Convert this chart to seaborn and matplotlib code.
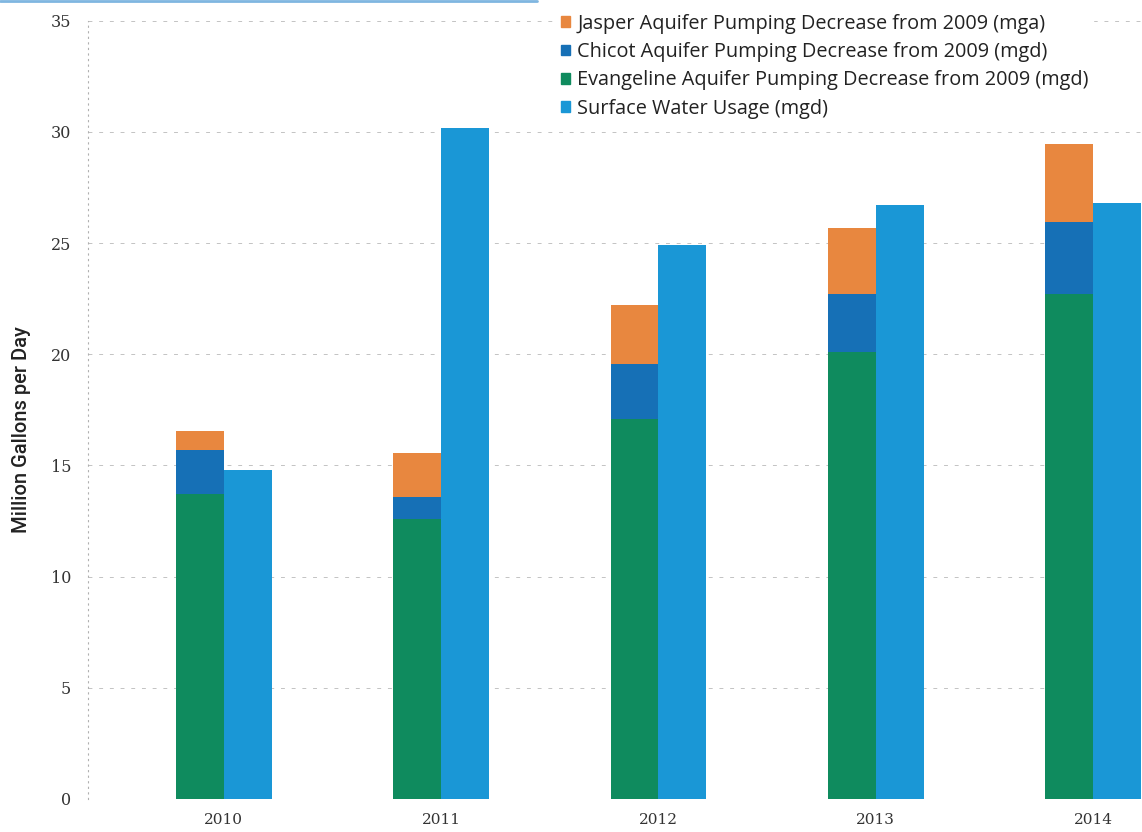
import pandas as pd
import matplotlib.pyplot as plt
import matplotlib.patches as mpatches
import seaborn as sns

# -------------------- Data --------------------
years = ["2010", "2011", "2012", "2013", "2014"]
evangeline = [13.7, 12.6, 17.1, 20.1, 22.7]     # Evangeline decrease (mgd)
chicot = [2.0, 1.0, 2.45, 2.6, 3.25]             # Chicot decrease (mgd)
jasper = [0.85, 1.95, 2.65, 3.0, 3.5]            # Jasper decrease (mgd)
surface = [14.8, 30.2, 24.9, 26.7, 26.8]         # Surface water usage (mgd)

labels = [
    "Jasper Aquifer Pumping Decrease from 2009 (mga)",
    "Chicot Aquifer Pumping Decrease from 2009 (mgd)",
    "Evangeline Aquifer Pumping Decrease from 2009 (mgd)",
    "Surface Water Usage (mgd)",
]
colors = ["#E8873F", "#1670B6", "#0F8B5E", "#1A97D6"]

# -------------------- Build stacked layers --------------------
# each layer holds the cumulative height of the ground-water stack
lvl_green = evangeline
lvl_chicot = [g + c for g, c in zip(evangeline, chicot)]
lvl_jasper = [g + c + j for g, c, j in zip(evangeline, chicot, jasper)]

kinds = ["ground", "surface"]


def layer(ground, surf):
    return pd.DataFrame({
        "year": years * 2,
        "kind": ["ground"] * len(years) + ["surface"] * len(years),
        "value": list(ground) + list(surf),
    })


sns.set_style("white")

fig = plt.figure(figsize=(11.42, 8.32), dpi=100)
ax = fig.add_axes([0.077, 0.0397, 0.923, 0.9353])

layers = [
    (lvl_jasper, surface, colors[0]),
    (lvl_chicot, [0] * len(years), colors[1]),
    (lvl_green, [0] * len(years), colors[2]),
]
for ground, surf, col in layers:
    sns.barplot(
        data=layer(ground, surf), x="year", y="value", hue="kind",
        hue_order=kinds, order=years,
        palette={"ground": col, "surface": colors[3]},
        dodge=True, width=0.44, gap=0, linewidth=0, saturation=1,
        legend=False, ax=ax,
    )

# -------------------- Axes formatting --------------------
ax.set_xlim(-0.625, 4.225)
ax.set_ylim(0, 35)
ax.set_yticks(range(0, 36, 5))
ax.set_xlabel("")
ax.set_ylabel("")
ax.grid(axis="y", color="#9a9a9a", linestyle=(0, (4, 7)), linewidth=0.7, alpha=0.6)
ax.set_axisbelow(True)
for s in ["top", "right", "bottom"]:
    ax.spines[s].set_visible(False)
ax.spines["left"].set_color("#b0b0b0")
ax.spines["left"].set_linestyle((0, (1, 4)))
ax.spines["left"].set_linewidth(0.8)
ax.tick_params(axis="y", length=0, pad=12, labelsize=11.5, labelcolor="#333333")
ax.tick_params(axis="x", length=0, pad=10, labelsize=11, labelcolor="#333333")
for t in ax.get_xticklabels() + ax.get_yticklabels():
    t.set_family("DejaVu Serif")

fig.text(0.019, 0.484, "Million Gallons per Day", rotation=90, va="center", ha="center",
         fontsize=14.5, family=["Roboto", "DejaVu Sans"], fontweight="medium",
         color="#222222")

handles = [mpatches.Patch(color=c, label=l) for c, l in zip(colors, labels)]
leg = ax.legend(handles=handles, loc="upper left", bbox_to_anchor=(0.436, 1.027),
                frameon=True, framealpha=1, edgecolor="white", fancybox=False,
                handlelength=0.45, handleheight=0.45, handletextpad=0.35,
                labelspacing=0.42, borderpad=0.2,
                prop={"family": "Open Sans", "size": 14.3})
for t in leg.get_texts():
    t.set_color("#222222")

# thin blue border line along the top edge of the scan
fig.add_artist(plt.Line2D([0, 0.47], [0.999, 0.999], color="#7fb6e0", linewidth=2,
                          transform=fig.transFigure))

fig.savefig("out.png", dpi=100)
